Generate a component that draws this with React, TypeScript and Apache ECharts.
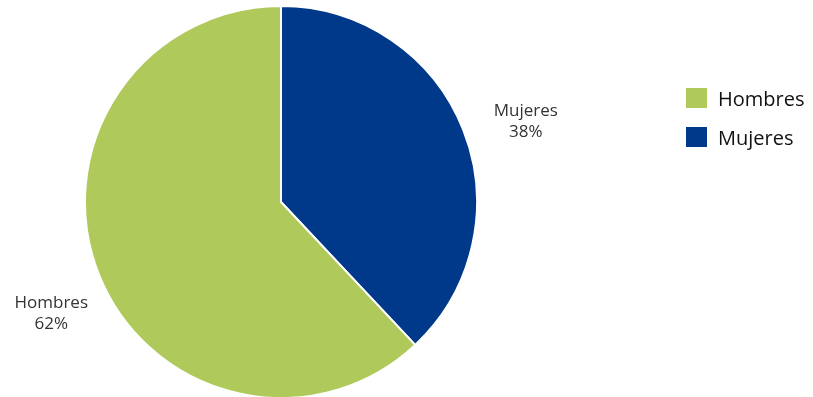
import React, { useEffect, useRef } from "react";
import * as echarts from "echarts";

const categories = ["Mujeres", "Hombres"];
const values = [38, 62];
const colors = ["#00388A", "#AFCA5B"];
const legendOrder = ["Hombres", "Mujeres"];

export default function App() {
  const ref = useRef<HTMLDivElement>(null);
  useEffect(() => {
    if (!ref.current) return;
    const chart = echarts.init(ref.current, null, { renderer: "svg" });
    const data = categories.map((c, i) => ({
      name: c,
      value: values[i],
      itemStyle: { color: colors[i] },
    }));
    chart.setOption({
      animation: false,
      legend: {
        orient: "vertical",
        left: 679,
        top: 81,
        data: legendOrder,
        icon: "rect",
        itemWidth: 23,
        itemHeight: 22,
        itemGap: 15,
        textStyle: {
          fontFamily: "Open Sans",
          fontSize: 20,
          color: "#111",
          padding: [0, 0, 0, 5],
        },
        selectedMode: false,
      },
      series: [
        {
          type: "pie",
          center: [281, 202],
          radius: [0, 196],
          startAngle: 90,
          clockwise: true,
          silent: true,
          data,
          itemStyle: { borderColor: "#fff", borderWidth: 2 },
          label: { show: false },
          labelLine: { show: false },
        },
        {
          type: "pie",
          center: [281, 202],
          radius: [236, 278],
          startAngle: 90,
          clockwise: true,
          silent: true,
          data: data.map((d) => ({
            ...d,
            itemStyle: { color: "transparent" },
            label: d.name === "Hombres" ? { offset: [12, 14] } : { offset: [3, 14] },
          })),
          itemStyle: { color: "transparent" },
          label: {
            show: true,
            position: "inside",
            formatter: "{b}\n{d}%",
            fontFamily: "Open Sans",
            fontSize: 17,
            lineHeight: 21,
            color: "#333",
            align: "center",
          },
          labelLine: { show: false },
          emphasis: { disabled: true },
        },
      ],
    });
    return () => chart.dispose();
  }, []);
  return (
    <div
      ref={ref}
      style={{ position: "fixed", left: 0, top: 0, width: 813, height: 397 }}
    />
  );
}
